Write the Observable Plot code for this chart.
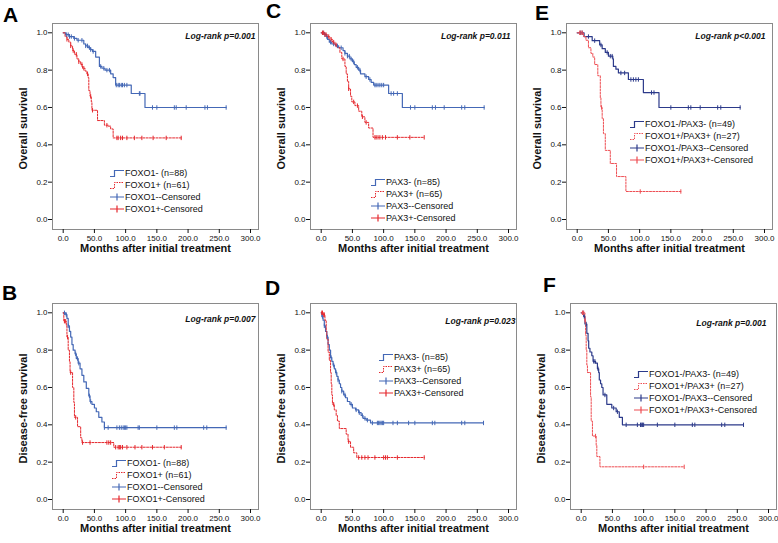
<!DOCTYPE html>
<html><head><meta charset="utf-8">
<script src="https://cdn.jsdelivr.net/npm/d3@7"></script>
<script src="https://cdn.jsdelivr.net/npm/@observablehq/plot@0.6"></script>
<style>
body{margin:0;background:#fff;font-family:"Liberation Sans",Arial,sans-serif;}
#root{position:relative;width:778px;height:543px;overflow:hidden;background:#fff;}
.panel{position:absolute;}
.letter{position:absolute;font:bold 21px/21px "Liberation Sans",Arial,sans-serif;color:#000;}
.legend{position:absolute;font:9px/12px "Liberation Sans",Arial,sans-serif;color:#111;white-space:nowrap;}
.legend div{height:12px;display:flex;align-items:center;}
.legend svg{margin-right:1px;}
</style></head><body><div id="root"></div><script>
// ---------- data (time in months, survival proportion) ----------
const xTicks = [0, 50, 100, 150, 200, 250, 300];
const yTicks = [0, 0.2, 0.4, 0.6, 0.8, 1.0];
const xTitle = "Months after initial treatment";

// A: overall survival by FOXO1
const A_neg = [[0,1],[4,0.99],[10,0.98],[17,0.97],[22,0.96],[33,0.94],[36,0.93],[40,0.92],[44,0.91],[47,0.90],[52,0.87],[58,0.82],[62,0.81],[67,0.80],[76,0.78],[80,0.76],[84,0.72],[109,0.675],[131,0.60],[261,0.60]];
const A_pos = [[0,1],[3,0.98],[6,0.965],[9,0.95],[12,0.93],[15,0.905],[18,0.885],[22,0.86],[25,0.845],[28,0.83],[31,0.81],[35,0.795],[38,0.78],[40,0.76],[41,0.69],[43,0.66],[45,0.63],[46,0.585],[55,0.53],[66,0.505],[72,0.50],[76,0.485],[80,0.437],[189,0.437]];
const A_negCens = [5,8,10,13,18,24,30,36,39,42,44,48,60,65,70,74,85,88,90,93,95,98,102,122,123,143,150,178,181,197,227,231,261];
const A_posCens = [6,12,16,21,25,30,33,39,44,47,70,86,88,92,95,102,114,126,144,165,189];

// C: overall survival by PAX3
const C_neg = [[0,1],[5,0.99],[8,0.98],[10,0.965],[13,0.95],[17,0.94],[23,0.93],[28,0.92],[35,0.905],[38,0.89],[42,0.875],[46,0.86],[50,0.845],[53,0.83],[56,0.815],[60,0.80],[63,0.78],[70,0.765],[76,0.75],[80,0.735],[84,0.72],[108,0.675],[130,0.60],[261,0.60]];
const C_pos = [[0,1],[6,0.99],[10,0.98],[14,0.965],[18,0.95],[22,0.935],[26,0.92],[30,0.895],[33,0.86],[38,0.82],[40,0.78],[42,0.74],[44,0.70],[47,0.66],[49,0.63],[54,0.61],[60,0.58],[65,0.55],[70,0.52],[76,0.49],[83,0.44],[165,0.44]];
const C_negCens = [3,6,9,15,20,26,32,38,42,45,48,52,58,62,72,78,86,88,91,94,97,100,112,116,122,143,150,178,183,197,225,230,261];
const C_posCens = [2,4,6,8,12,16,20,24,35,44,52,58,66,72,86,88,91,94,98,103,122,142,165];

// E: overall survival, FOXO1-/PAX3- vs FOXO1+/PAX3+
const E_neg = [[0,1],[11,0.98],[24,0.958],[36,0.935],[40,0.915],[45,0.895],[50,0.875],[57,0.86],[58,0.82],[62,0.805],[66,0.785],[82,0.75],[106,0.68],[131,0.60],[261,0.60]];
const E_pos = [[0,1],[10,0.98],[14,0.96],[18,0.92],[22,0.89],[25,0.87],[28,0.83],[33,0.77],[37,0.65],[38,0.60],[40,0.54],[42,0.46],[45,0.37],[53,0.30],[63,0.23],[78,0.15],[166,0.15]];
const E_negCens = [5,8,18,28,38,48,53,56,70,76,86,90,94,98,119,123,150,178,182,197,225,230,261];
const E_posCens = [4,6,8,39,101,166];

// B: disease-free survival by FOXO1
const B_neg = [[0,1],[4,0.99],[6,0.97],[8,0.93],[10,0.90],[12,0.87],[14,0.83],[16,0.80],[19,0.78],[21,0.755],[24,0.73],[27,0.70],[30,0.665],[33,0.63],[37,0.595],[41,0.555],[43,0.525],[46,0.51],[50,0.49],[53,0.47],[57,0.44],[62,0.415],[66,0.385],[261,0.385]];
const B_pos = [[0,1],[1,0.955],[5,0.93],[6,0.87],[8,0.80],[10,0.74],[11,0.68],[15,0.60],[17,0.52],[18,0.44],[23,0.39],[28,0.33],[30,0.305],[81,0.28],[189,0.28]];
const B_negCens = [2,5,8,20,23,25,42,44,66,72,86,90,93,96,98,100,102,120,122,150,178,182,225,230,261];
const B_posCens = [2,4,7,12,20,31,43,70,73,76,84,88,90,92,95,102,115,126,143,162,189];

// D: disease-free survival by PAX3
const D_neg = [[0,1],[1,0.98],[3,0.96],[5,0.93],[7,0.90],[9,0.87],[11,0.83],[13,0.80],[15,0.76],[17,0.74],[19,0.72],[21,0.70],[23,0.68],[25,0.66],[27,0.64],[29,0.62],[31,0.60],[33,0.58],[36,0.56],[39,0.545],[42,0.525],[46,0.51],[50,0.49],[55,0.48],[60,0.465],[64,0.45],[67,0.435],[72,0.425],[79,0.41],[260,0.41]];
const D_pos = [[0,1],[3,0.99],[6,0.96],[8,0.90],[9,0.86],[11,0.79],[13,0.745],[15,0.68],[16,0.62],[17,0.56],[18,0.51],[21,0.48],[24,0.45],[26,0.42],[29,0.38],[40,0.35],[43,0.31],[47,0.28],[52,0.25],[57,0.225],[165,0.225]];
const D_negCens = [2,5,10,16,20,24,27,33,38,48,56,61,66,70,74,82,90,92,94,96,98,100,115,122,140,150,178,182,225,230,260];
const D_posCens = [1,2,4,5,20,44,60,65,70,75,86,100,103,106,122,165];

// F: disease-free survival, FOXO1-/PAX3- vs FOXO1+/PAX3+
const F_neg = [[0,1],[4,0.98],[6,0.94],[9,0.89],[11,0.85],[12,0.81],[14,0.79],[17,0.77],[19,0.74],[23,0.73],[26,0.70],[28,0.68],[29,0.64],[31,0.62],[33,0.60],[35,0.56],[41,0.51],[49,0.49],[56,0.47],[61,0.44],[66,0.40],[260,0.40]];
const F_pos = [[0,1],[6,0.96],[7,0.88],[8,0.80],[9,0.72],[10,0.68],[15,0.55],[16,0.42],[18,0.34],[24,0.29],[25,0.23],[30,0.175],[165,0.175]];
const F_negCens = [3,5,8,20,22,27,38,52,58,72,90,95,97,98,100,122,150,178,182,225,230,260];
const F_posCens = [2,4,6,23,100,165];

const labelsFOXO1 = ["FOXO1- (n=88)", "FOXO1+ (n=61)", "FOXO1--Censored", "FOXO1+-Censored"];
const labelsPAX3 = ["PAX3- (n=85)", "PAX3+ (n=65)", "PAX3--Censored", "PAX3+-Censored"];
const labelsBoth = ["FOXO1-/PAX3- (n=49)", "FOXO1+/PAX3+ (n=27)", "FOXO1-/PAX3--Censored", "FOXO1+/PAX3+-Censored"];

// ---------- layout ----------
const BLUE = "#4468b6", RED = "#e5282e", NAVY = "#2c3a8a", LRED = "#ee4d52";
const panels = [
  {L:"A", left:0, top:0, neg:A_neg, pos:A_pos, nc:A_negCens, pc:A_posCens, yl:"Overall survival", p:"Log-rank p=0.001", lab:labelsFOXO1, c1:BLUE, c2:RED, pdx:-3, pdy:13, leg:[110,167], let:[3,4]},
  {L:"C", left:258, top:0, neg:C_neg, pos:C_pos, nc:C_negCens, pc:C_posCens, yl:"Overall survival", p:"Log-rank p=0.011", lab:labelsPAX3, c1:BLUE, c2:RED, pdx:-6, pdy:13, leg:[371,176], let:[266,0]},
  {L:"E", left:514, top:0, neg:E_neg, pos:E_pos, nc:E_negCens, pc:E_posCens, yl:"Overall survival", p:"Log-rank p<0.001", lab:labelsBoth, c1:NAVY, c2:LRED, pdx:-7, pdy:13, leg:[630,118], let:[535,2]},
  {L:"B", left:0, top:280, neg:B_neg, pos:B_pos, nc:B_negCens, pc:B_posCens, yl:"Disease-free survival", p:"Log-rank p=0.007", lab:labelsFOXO1, c1:BLUE, c2:RED, pdx:-3, pdy:16, leg:[112,457], let:[2,282]},
  {L:"D", left:258, top:280, neg:D_neg, pos:D_pos, nc:D_negCens, pc:D_posCens, yl:"Disease-free survival", p:"Log-rank p=0.023", lab:labelsPAX3, c1:BLUE, c2:RED, pdx:-1, pdy:18, leg:[379,351], let:[265,277]},
  {L:"F", left:518, top:280, neg:F_neg, pos:F_pos, nc:F_negCens, pc:F_posCens, yl:"Disease-free survival", p:"Log-rank p=0.001", lab:labelsBoth, c1:NAVY, c2:LRED, pdx:-10, pdy:20, leg:[634,368], let:[543,274]}
];

const tickSym = {draw(ctx, size){ const r = Math.sqrt(size / Math.PI); ctx.moveTo(0, -r); ctx.lineTo(0, r); }};
const survAt = (steps, t) => { let s = steps[0][1]; for (const [tt, ss] of steps) { if (tt <= t) s = ss; } return s; };
const FONT = "Liberation Sans, Arial, sans-serif";
const root = document.getElementById("root");

for (const p of panels) {
  const neg = p.neg.map(([t, s]) => ({t, s}));
  const pos = p.pos.map(([t, s]) => ({t, s}));
  const nc = p.nc.map(t => ({t, s: survAt(p.neg, t)}));
  const pc = p.pc.map(t => ({t, s: survAt(p.pos, t)}));
  const chart = Plot.plot({
    width: 260, height: 270,
    marginLeft: 52, marginRight: 2, marginTop: 23, marginBottom: 41,
    x: {domain: [0, 300], insetLeft: 10.7, insetRight: 8},
    y: {domain: [0, 1], insetTop: 9.3, insetBottom: 10},
    style: {fontFamily: FONT, background: "transparent", overflow: "visible", color: "#111"},
    marks: [
      Plot.frame({stroke: "#8a8a8a"}),
      Plot.axisX({ticks: xTicks, tickFormat: d => d.toFixed(1), tickSize: 4, tickPadding: 2, fontSize: 8, label: null}),
      Plot.axisY({ticks: yTicks, tickFormat: d => d.toFixed(1), tickSize: 4, tickPadding: 1, fontSize: 8, label: null}),
      Plot.line(neg, {x: "t", y: "s", curve: "step-after", stroke: p.c1, strokeWidth: 1.2}),
      Plot.line(pos, {x: "t", y: "s", curve: "step-after", stroke: p.c2, strokeWidth: 1, strokeDasharray: "2,1.3"}),
      Plot.dot(nc, {x: "t", y: "s", symbol: tickSym, r: 2.2, stroke: p.c1, fill: "none", strokeWidth: 1}),
      Plot.dot(pc, {x: "t", y: "s", symbol: tickSym, r: 2.2, stroke: p.c2, fill: "none", strokeWidth: 1}),
      Plot.text([p.yl], {text: d => d, frameAnchor: "left", dx: -29, dy: 2, rotate: -90, textAnchor: "middle", lineAnchor: "middle", fontWeight: "bold", fontSize: 11}),
      Plot.text([xTitle], {text: d => d, frameAnchor: "bottom", dy: 19, textAnchor: "middle", lineAnchor: "middle", fontWeight: "bold", fontSize: 11}),
      Plot.text([p.p], {text: d => d, frameAnchor: "top-right", dx: p.pdx, dy: p.pdy, textAnchor: "end", lineAnchor: "middle", fontStyle: "italic", fontWeight: "bold", fontSize: 8.5})
    ]
  });
  chart.classList.add("panel");
  chart.style.left = p.left + "px";
  chart.style.top = p.top + "px";
  root.appendChild(chart);

  const letter = document.createElement("div");
  letter.className = "letter";
  letter.textContent = p.L;
  letter.style.left = p.let[0] + "px";
  letter.style.top = p.let[1] + "px";
  root.appendChild(letter);

  const leg = document.createElement("div");
  leg.className = "legend";
  leg.style.left = p.leg[0] + "px";
  leg.style.top = p.leg[1] + "px";
  const glyphs = [
    `<svg width="14" height="10"><path d="M0,8.5H4.5V2.5H14" fill="none" stroke="${p.c1}" stroke-width="1.2"/></svg>`,
    `<svg width="14" height="10"><path d="M0,8.5H4.5V2.5H14" fill="none" stroke="${p.c2}" stroke-width="1" stroke-dasharray="1.5,1"/></svg>`,
    `<svg width="14" height="10"><path d="M0,5H14M7,1.5V8.5" fill="none" stroke="${p.c1}" stroke-width="1.2"/></svg>`,
    `<svg width="14" height="10"><path d="M0,5H14M7,1.5V8.5" fill="none" stroke="${p.c2}" stroke-width="1.2"/></svg>`
  ];
  leg.innerHTML = p.lab.map((t, i) => `<div>${glyphs[i]}<span>${t}</span></div>`).join("");
  root.appendChild(leg);
}
</script></body></html>
